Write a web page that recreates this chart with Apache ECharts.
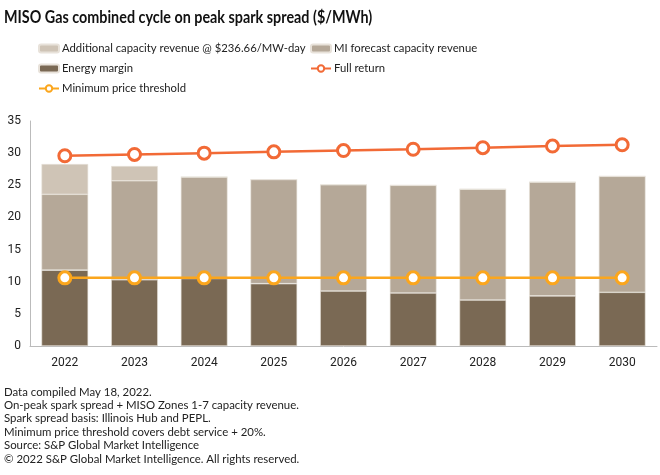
<!DOCTYPE html>
<html><head><meta charset="utf-8">
<script src="https://cdn.jsdelivr.net/npm/echarts@6/dist/echarts.min.js"></script>
<style>html,body{margin:0;padding:0;background:#fff}#c{width:660px;height:475px}</style>
</head><body><div id="c"></div>
<script>
var years = ['2022','2023','2024','2025','2026','2027','2028','2029','2030'];
var energyMargin = [11.8, 10.3, 10.5, 9.7, 8.55, 8.25, 7.15, 7.8, 8.35];
var miForecast = [11.8, 15.4, 15.8, 16.2, 16.55, 16.75, 17.25, 17.7, 18.05];
var additionalCap = [4.7, 2.3, 0, 0, 0, 0, 0, 0, 0];
var fullReturn = [29.6, 29.8, 30.0, 30.2, 30.4, 30.6, 30.85, 31.1, 31.3];
var minPrice = [10.6, 10.6, 10.6, 10.6, 10.6, 10.6, 10.6, 10.6, 10.6];
var titleText = 'MISO Gas combined cycle on peak spark spread ($/MWh)';
var notes = [
  'Data compiled May 18, 2022.',
  'On-peak spark spread + MISO Zones 1-7 capacity revenue.',
  'Spark spread basis: Illinois Hub and PEPL.',
  'Minimum price threshold covers debt service + 20%.',
  'Source: S&P Global Market Intelligence',
  '\u00a9 2022 S&P Global Market Intelligence. All rights reserved.'
];
var F = 'Lato, Roboto, sans-serif';
var FN = 'Roboto, "Liberation Sans", sans-serif';
var names = ['Additional capacity revenue @ $236.66/MW-day','MI forecast capacity revenue','Energy margin','Full return','Minimum price threshold'];
var legPos = [[38,43],[310,43],[38,63],[310,63],[38,83]];
var legends = names.map(function(n,i){
  return {data:[n], left:legPos[i][0], top:legPos[i][1], padding:0, itemWidth:20, itemHeight:8, itemGap:4,
    textStyle:{fontFamily:F, fontSize:11.3, color:'#222', padding:[0,0,0,-2]}, selectedMode:false};
});
var chart = echarts.init(document.getElementById('c'));
chart.setOption({
  animation:false,
  graphic:[
    {type:'text', x:4, y:9, scaleX:0.87, style:{text:titleText, font:'bold 16.5px '+F, fill:'#111'}},
    {type:'text', x:4, y:385, scaleX:0.95, style:{text:notes.join('\n'), font:'12px '+F, lineHeight:13.4, fill:'#222'}}
  ],
  legend:legends,
  grid:{left:30, right:3, top:121, bottom:129},
  xAxis:{type:'category', data:years, axisTick:{show:false},
    axisLine:{lineStyle:{color:'#bbb'}},
    axisLabel:{fontFamily:FN, fontSize:12, color:'#222', margin:11}},
  yAxis:{type:'value', min:0, max:35, interval:5, splitLine:{show:false},
    axisLine:{show:true, lineStyle:{color:'#bbb'}},
    axisLabel:{fontFamily:FN, fontSize:12, color:'#222', margin:9}},
  series:[
    {name:names[2], type:'bar', stack:'s', data:energyMargin, barWidth:'67%', itemStyle:{color:'#7a6954', borderColor:'#e8e2da', borderWidth:0.6}},
    {name:names[1], type:'bar', stack:'s', data:miForecast, itemStyle:{color:'#b5a898', borderColor:'#e8e2da', borderWidth:0.6}},
    {name:names[0], type:'bar', stack:'s', data:additionalCap, itemStyle:{color:'#cfc4b6', borderColor:'#e8e2da', borderWidth:0.6}},
    {name:names[3], type:'line', data:fullReturn, symbol:'circle', symbolSize:12,
      lineStyle:{color:'#f26a36', width:2.5}, itemStyle:{color:'#fff', borderColor:'#f26a36', borderWidth:3}},
    {name:names[4], type:'line', data:minPrice, symbol:'circle', symbolSize:12,
      lineStyle:{color:'#fba61d', width:2.5}, itemStyle:{color:'#fff', borderColor:'#fba61d', borderWidth:3}}
  ]
});
</script></body></html>
